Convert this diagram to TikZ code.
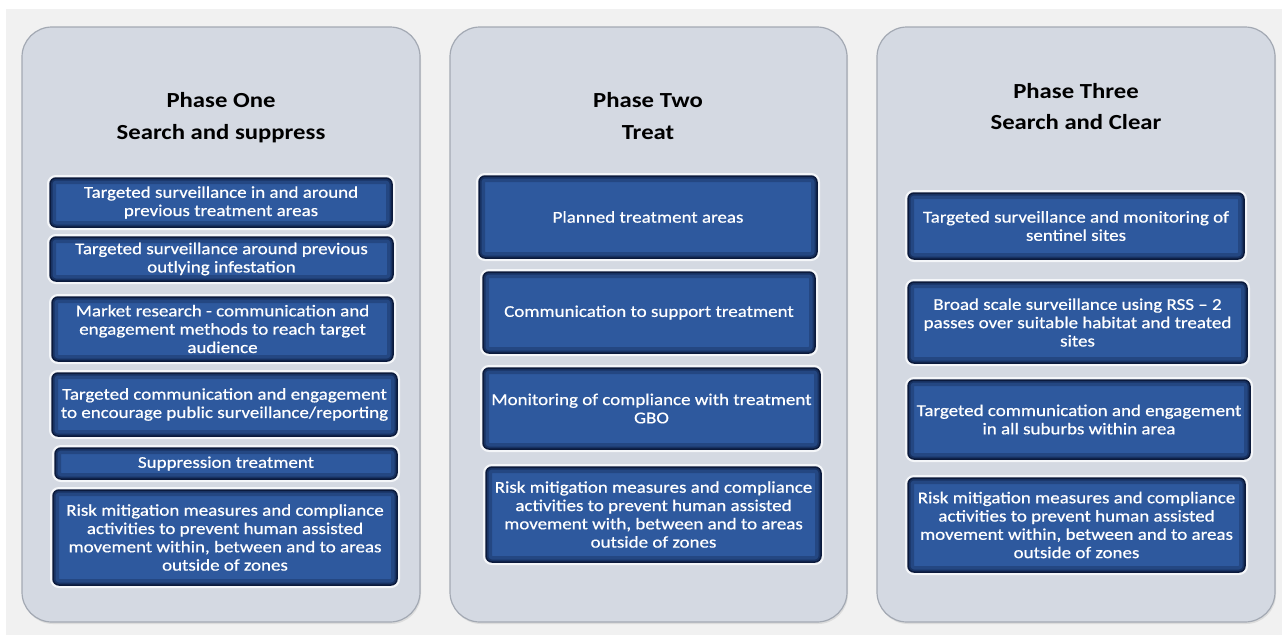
\documentclass[tikz,border=0pt]{standalone}
\usepackage{fontspec}
\setmainfont{Carlito}[FakeStretch=1.15]
\newfontfamily\boxfont{Carlito}[FakeStretch=1.15, FakeBold=0.6, Ligatures=TeX]
\usetikzlibrary{shadows}
\definecolor{bggrey}{HTML}{F1F1F1}
\definecolor{panelfill}{HTML}{D4D9E2}
\definecolor{panelline}{HTML}{A3A9B3}
\definecolor{boxblue}{HTML}{2E599E}
\definecolor{navy}{HTML}{0B1A3C}
\definecolor{rim}{HTML}{F4F6F9}
\tikzset{
  panel/.style={fill=panelfill, draw=panelline, line width=1.2pt, rounded corners=30pt,
    inner sep=0pt, drop shadow={opacity=0.18, shadow xshift=1pt, shadow yshift=-2pt}},
  boxnode/.style={fill=boxblue, draw=navy, line width=1.5pt, rounded corners=6pt,
    inner sep=0pt, text=white, align=center,
    font=\boxfont\fontsize{16.5}{18.3}\selectfont,
    preaction={draw=rim, line width=6pt},
    path picture={
      \draw[navy, opacity=0.28, line width=12pt, rounded corners=6pt]
        (path picture bounding box.south west) rectangle (path picture bounding box.north east);
      \draw[navy, opacity=0.45, line width=5pt, rounded corners=6pt]
        (path picture bounding box.south west) rectangle (path picture bounding box.north east);
    }},
  titletext/.style={anchor=base, text=black, font=\bfseries\fontsize{21.5}{25}\selectfont}
}
\newcommand{\bx}[6]{\node[boxnode, minimum width=#4pt, minimum height=#5pt] (#1) at (#2,#3) {#6};}
\begin{document}
\begin{tikzpicture}[x=1pt,y=-1pt]
\useasboundingbox (0,0) rectangle (1282,635);
\fill[white] (0,0) rectangle (1282,635);
\fill[bggrey] (6,9) rectangle (1282,635);

% panels
\node[panel, minimum width=398pt, minimum height=595pt] (p1) at (221,324.5) {};
\node[panel, minimum width=397pt, minimum height=595pt] (p2) at (648.5,324.5) {};
\node[panel, minimum width=398pt, minimum height=595pt] (p3) at (1076,324.5) {};

% titles
\node[titletext] (t1a) at (221,107) {Phase One};
\node[titletext] (t1b) at (221,139) {Search and suppress};
\node[titletext] (t2a) at (648,107) {Phase Two};
\node[titletext] (t2b) at (648,139) {Treat};
\node[titletext] (t3a) at (1076,98) {Phase Three};
\node[titletext] (t3b) at (1076,129) {Search and Clear};

% phase one boxes
\bx{b11}{221}{202.5}{342}{49}{Targeted surveillance in and around\\previous treatment areas}
\bx{b12}{221.5}{259}{343}{44}{Targeted surveillance around previous\\outlying infestation}
\bx{b13}{222.5}{329}{341}{64}{Market research - communication and\\engagement methods to reach target\\audience}
\bx{b14}{224.5}{404.5}{345}{63}{Targeted communication and engagement\\to encourage public surveillance/reporting}
\bx{b15}{226}{463.5}{342}{31}{Suppression treatment}
\bx{b16}{225}{537.5}{344}{95}{Risk mitigation measures and compliance\\activities to prevent human assisted\\movement within, between and to areas\\outside of zones}

% phase two boxes
\bx{b21}{648}{217}{338}{82}{Planned treatment areas}
\bx{b22}{649}{312.5}{332}{81}{Communication to support treatment}
\bx{b23}{651.5}{408.5}{337}{81}{Monitoring of compliance with treatment\\GBO}
\bx{b24}{653.5}{514.5}{335}{95}{Risk mitigation measures and compliance\\activities to prevent human assisted\\movement with, between and to areas\\outside of zones}

% phase three boxes
\bx{b31}{1076}{226}{336}{66}{Targeted surveillance and monitoring of\\sentinel sites}
\bx{b32}{1077.5}{322.5}{339}{81}{Broad scale surveillance using RSS – 2\\passes over suitable habitat and treated\\sites}
\bx{b33}{1079}{419.5}{342}{79}{Targeted communication and engagement\\in all suburbs within area}
\bx{b34}{1076.5}{525}{337}{94}{Risk mitigation measures and compliance\\activities to prevent human assisted\\movement within, between and to areas\\outside of zones}
\end{tikzpicture}
\end{document}
